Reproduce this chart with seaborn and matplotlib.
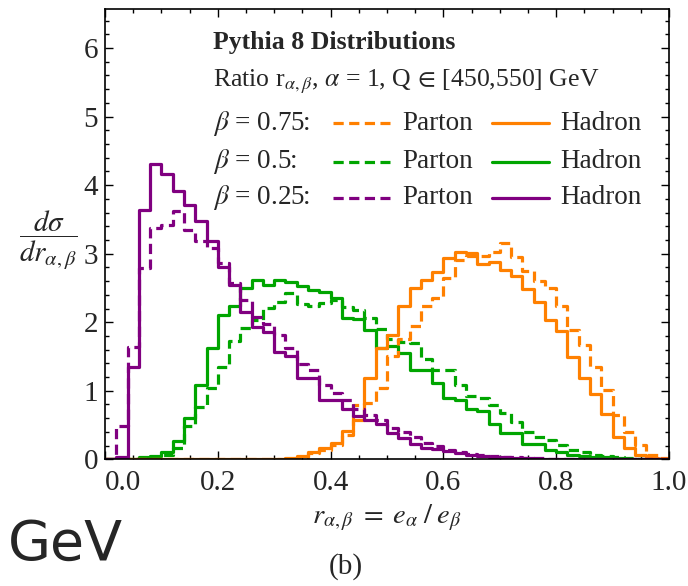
import numpy as np
import pandas as pd
import matplotlib
matplotlib.use("Agg")
import matplotlib.pyplot as plt
from matplotlib.lines import Line2D
from matplotlib.ticker import MultipleLocator, FormatStrFormatter
import seaborn as sns

# ---------------- data (50 bins of width 0.02 on [0,1]) ----------------
bin_edges = [round(i * 0.02, 4) for i in range(51)]
bin_centers = [round(i * 0.02 + 0.01, 4) for i in range(50)]

beta075_parton = [0, 0, 0, 0, 0, 0, 0, 0, 0, 0, 0, 0, 0, 0, 0, 0,
                  0.01, 0.03, 0.09, 0.13, 0.21, 0.35, 0.79, 0.82, 1.04, 1.50,
                  1.75, 1.95, 2.23, 2.35, 2.64, 2.91, 2.96, 2.97, 3.03, 3.15,
                  2.95, 2.75, 2.60, 2.50, 2.23, 1.88, 1.67, 1.35, 1.01, 0.64,
                  0.40, 0.21, 0.06, 0.02]
beta075_hadron = [0, 0, 0, 0, 0, 0, 0, 0, 0, 0, 0, 0, 0, 0, 0,
                  0.01, 0.02, 0.05, 0.11, 0.16, 0.24, 0.42, 0.57, 1.18, 1.62,
                  1.81, 2.23, 2.50, 2.62, 2.74, 2.93, 3.02, 3.01, 2.85, 2.88,
                  2.76, 2.67, 2.48, 2.30, 2.03, 1.87, 1.49, 1.19, 0.96, 0.66,
                  0.32, 0.16, 0.06, 0.02, 0]
beta05_parton = [0, 0, 0.01, 0.02, 0.03, 0.06, 0.17, 0.48, 0.77, 1.04,
                 1.35, 1.72, 1.91, 2.03, 2.21, 2.30, 2.43, 2.26, 2.24, 2.28,
                 2.32, 2.22, 2.18, 2.06, 1.90, 1.76, 1.71, 1.70, 1.47, 1.30,
                 1.30, 1.08, 0.92, 0.90, 0.79, 0.67, 0.55, 0.40, 0.33, 0.28,
                 0.21, 0.13, 0.11, 0.07, 0.05, 0.03, 0.02, 0.01, 0, 0]
beta05_hadron = [0, 0, 0.01, 0.03, 0.05, 0.10, 0.26, 0.60, 1.09, 1.62,
                 2.11, 2.23, 2.50, 2.61, 2.54, 2.62, 2.59, 2.53, 2.47, 2.44,
                 2.35, 2.06, 2.04, 1.88, 1.63, 1.66, 1.55, 1.31, 1.31, 1.11,
                 0.89, 0.86, 0.74, 0.70, 0.52, 0.38, 0.38, 0.23, 0.23, 0.13,
                 0.11, 0.06, 0.05, 0.04, 0.03, 0.02, 0.01, 0.01, 0, 0]
beta025_parton = [0, 0.48, 1.64, 2.79, 3.37, 3.42, 3.62, 3.35, 3.18, 3.08,
                  2.87, 2.57, 2.32, 2.07, 1.98, 1.82, 1.63, 1.39, 1.30, 1.08,
                  0.97, 0.87, 0.74, 0.65, 0.58, 0.45, 0.40, 0.32, 0.24, 0.19,
                  0.14, 0.11, 0.08, 0.06, 0.05, 0.04, 0.03, 0.02, 0.02, 0.01,
                  0.01, 0, 0, 0, 0, 0, 0, 0, 0, 0]
beta025_hadron = [0, 0.03, 1.35, 3.64, 4.31, 4.16, 3.91, 3.71, 3.48, 3.18,
                  2.80, 2.55, 2.15, 1.93, 1.86, 1.56, 1.51, 1.18, 1.18, 0.87,
                  0.87, 0.73, 0.63, 0.57, 0.52, 0.38, 0.31, 0.23, 0.17, 0.15,
                  0.12, 0.09, 0.06, 0.05, 0.04, 0.03, 0.02, 0.02, 0.01, 0.01,
                  0.01, 0, 0, 0, 0, 0, 0, 0, 0, 0]

beta_labels = ["0.75", "0.5", "0.25"]
x_ticks = [0.0, 0.2, 0.4, 0.6, 0.8, 1.0]
y_ticks = [0, 1, 2, 3, 4, 5, 6]

# ---------------- style ----------------
sns.set_style("ticks")
plt.rcParams["font.family"] = ["Liberation Serif", "DejaVu Serif"]
plt.rcParams["mathtext.fontset"] = "stix"

ORANGE = "#FF8000"
GREEN = "#00A500"
PURPLE = "#800080"
LW = 2.3
DASH = (0, (3.2, 1.7))

W, H = 688, 586
fig = plt.figure(figsize=(W / 100, H / 100), dpi=100)
ax_l, ax_r, ax_t, ax_b = 105, 669, 9, 459.3
ax = fig.add_axes([ax_l / W, 1 - ax_b / H, (ax_r - ax_l) / W, (ax_b - ax_t) / H])

series = [
    (beta05_parton, GREEN, DASH),
    (beta05_hadron, GREEN, "-"),
    (beta075_parton, ORANGE, DASH),
    (beta075_hadron, ORANGE, "-"),
    (beta025_parton, PURPLE, DASH),
    (beta025_hadron, PURPLE, "-"),
]
for vals, col, ls in series:
    df = pd.DataFrame({"r": bin_centers, "w": vals})
    sns.histplot(data=df, x="r", weights="w", bins=bin_edges, element="step",
                 fill=False, color=col, linestyle=ls, linewidth=LW, ax=ax)

ax.set_xlim(0, 1)
ax.set_ylim(0, 6.57)
ax.set_xlabel("")
ax.set_ylabel("")
ax.set_xticks(x_ticks)
ax.set_yticks(y_ticks)
ax.xaxis.set_major_formatter(FormatStrFormatter("%.1f"))
ax.xaxis.set_minor_locator(MultipleLocator(0.05))
ax.yaxis.set_minor_locator(MultipleLocator(0.2))
ax.tick_params(which="both", direction="in", top=True, right=True,
               width=1.0, color="black", labelsize=21)
ax.tick_params(axis="x", which="both", pad=8)
ax.tick_params(axis="y", which="both", pad=5)
ax.tick_params(which="major", length=5.5)
ax.tick_params(which="minor", length=3)
for sp in ax.spines.values():
    sp.set_linewidth(1.2)
    sp.set_color("black")
# first x label sits to the right of the corner, as in the reference
ax.xaxis.get_major_ticks()[0].label1.set_horizontalalignment("left")

# ---------------- annotation block ----------------
def fx(px):
    return px / W

def fy(py):
    return 1 - py / H

fig.text(fx(213), fy(43), "Pythia 8 Distributions", fontsize=18.5,
         fontweight="bold", ha="left", va="center")
fig.text(fx(213), fy(82),
         r"Ratio r$_{\alpha,\beta}$, $\alpha$ = 1, Q$\,\in\,$[450,550] GeV",
         fontsize=18.5, ha="left", va="center")
rows_y = [123, 162, 198]
for lab, col, yy in zip(beta_labels, [ORANGE, GREEN, PURPLE], rows_y):
    fig.text(fx(213), fy(yy), r"$\beta$ = " + lab + ":", fontsize=19.5,
             ha="left", va="center")
    fig.add_artist(Line2D([fx(333), fx(390)], [fy(yy), fy(yy)], color=col,
                          linestyle=DASH, linewidth=LW,
                          transform=fig.transFigure))
    fig.text(fx(402), fy(yy), "Parton", fontsize=19.5, ha="left", va="center")
    fig.add_artist(Line2D([fx(492), fx(549)], [fy(yy), fy(yy)], color=col,
                          linestyle="-", linewidth=LW,
                          transform=fig.transFigure))
    fig.text(fx(560), fy(yy), "Hadron", fontsize=19.5, ha="left", va="center")

# ---------------- axis labels and panel text ----------------
fig.text(fx(48), fy(240), r"$\dfrac{d\sigma}{dr_{\alpha,\beta}}$", fontsize=21,
         ha="center", va="center")
fig.text(fx(387), fy(518),
         r"$r_{\alpha,\beta}\;=\;e_{\alpha}\;/\;e_{\beta}$",
         fontsize=20.5, ha="center", va="center")
fig.text(fx(346), fy(567), "(b)", fontsize=21, ha="center", va="center")
fig.text(fx(8), fy(545), "GeV", fontsize=40, ha="left", va="center",
         family=["DejaVu Sans"])

fig.savefig("out.png", dpi=100)
